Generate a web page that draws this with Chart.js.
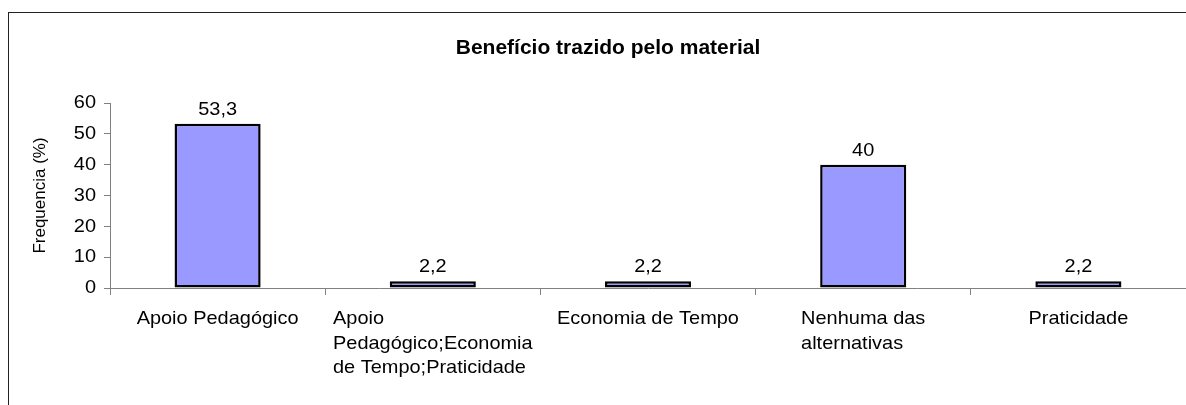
<!DOCTYPE html>
<html>
<head>
<meta charset="utf-8">
<script src="https://cdn.jsdelivr.net/npm/chart.js@4"></script>
<style>
  html, body { margin: 0; padding: 0; background: #fff; }
  #c { display: block; }
</style>
</head>
<body>
<canvas id="c" width="1186" height="405"></canvas>
<script>
// ---- data ----
const titleText = "Benefício trazido pelo material";
const yTitle = "Frequencia (%)";
const categories = [
  ["Apoio Pedagógico"],
  ["Apoio", "Pedagógico;Economia", "de Tempo;Praticidade"],
  ["Economia de Tempo"],
  ["Nenhuma das", "alternativas"],
  ["Praticidade"]
];
const values = [53.3, 2.2, 2.2, 40, 2.2];
const yMin = 0;
const yMax = 60;
const yStep = 10;

// ---- styling ----
const FONT = "'Liberation Sans', Arial, sans-serif";
const STRETCH = 1.05; // reference text is slightly wide
const canvas = document.getElementById('c');
const ctx = canvas.getContext('2d');

// draw horizontal text slightly widened (reference look)
const _fill = ctx.fillText.bind(ctx);
ctx.fillText = function (t, x, y, mw) {
  const m = ctx.getTransform();
  if (Math.abs(m.b) > 1e-6 || Math.abs(m.c) > 1e-6) {
    return mw === undefined ? _fill(t, x, y) : _fill(t, x, y, mw);
  }
  ctx.save();
  ctx.translate(x, y);
  ctx.scale(STRETCH, 1);
  if (mw === undefined) _fill(t, 0, 0); else _fill(t, 0, 0, mw / STRETCH);
  ctx.restore();
};
const _measure = ctx.measureText.bind(ctx);
ctx.measureText = function (t) {
  const m = _measure(t);
  return {
    width: m.width * STRETCH,
    actualBoundingBoxAscent: m.actualBoundingBoxAscent,
    actualBoundingBoxDescent: m.actualBoundingBoxDescent
  };
};

const fmt = v => String(v).replace('.', ',');

const framePlugin = {
  id: 'frame',
  beforeDraw(chart) {
    const c = chart.ctx;
    c.save();
    c.fillStyle = '#fff';
    c.fillRect(0, 0, chart.width, chart.height);
    c.strokeStyle = '#222';
    c.lineWidth = 1;
    c.strokeRect(8.5, 12.5, 1400, 600);
    c.restore();
  }
};

const valueLabels = {
  id: 'valueLabels',
  afterDatasetsDraw(chart) {
    const c = chart.ctx;
    const meta = chart.getDatasetMeta(0);
    c.save();
    c.font = "19px " + FONT;
    c.fillStyle = '#000';
    c.textAlign = 'center';
    c.textBaseline = 'alphabetic';
    meta.data.forEach((el, i) => {
      c.fillText(fmt(values[i]), el.x, el.y - 9);
    });
    c.restore();
  }
};

const xLabels = {
  id: 'xLabels',
  afterDraw(chart) {
    const c = chart.ctx;
    const xs = chart.scales.x;
    c.save();
    c.font = "19px " + FONT;
    c.fillStyle = '#000';
    c.textAlign = 'left';
    c.textBaseline = 'alphabetic';
    categories.forEach((lines, i) => {
      const cx = xs.getPixelForValue(i);
      const w = Math.max(...lines.map(l => c.measureText(l).width));
      const left = cx - w / 2;
      lines.forEach((l, k) => {
        c.fillText(l, left, xs.top + 36 + k * 24.5);
      });
    });
    c.restore();
  }
};

new Chart(ctx, {
  type: 'bar',
  data: {
    labels: categories,
    datasets: [{
      data: values,
      backgroundColor: '#9999FF',
      borderColor: '#000',
      borderWidth: 2.5,
      borderSkipped: false,
      categoryPercentage: 1,
      barPercentage: 0.4
    }]
  },
  options: {
    responsive: false,
    animation: false,
    devicePixelRatio: 1,
    layout: { padding: { left: 30, right: 0, top: 12, bottom: 110 } },
    plugins: {
      legend: { display: false },
      tooltip: { enabled: false },
      title: {
        display: true,
        text: titleText,
        color: '#000',
        font: { family: FONT, size: 20, weight: 'bold' },
        padding: { top: 24, bottom: 43 }
      }
    },
    scales: {
      x: {
        offset: true,
        grid: { offset: true, drawOnChartArea: false, drawTicks: true, tickLength: 7, color: '#808080' },
        border: { color: '#808080', width: 1 },
        ticks: { display: false }
      },
      y: {
        min: yMin,
        max: yMax,
        afterFit(scale) { scale.width = 80; },
        ticks: {
          stepSize: yStep,
          color: '#000',
          padding: 8,
          font: { family: FONT, size: 19 }
        },
        grid: { drawOnChartArea: false, drawTicks: true, tickLength: 6, color: '#808080' },
        border: { color: '#808080', width: 1 },
        title: {
          display: true,
          text: yTitle,
          color: '#000',
          font: { family: FONT, size: 17 },
          padding: { top: 0, bottom: 4 }
        }
      }
    }
  },
  plugins: [framePlugin, valueLabels, xLabels]
});
</script>
</body>
</html>
